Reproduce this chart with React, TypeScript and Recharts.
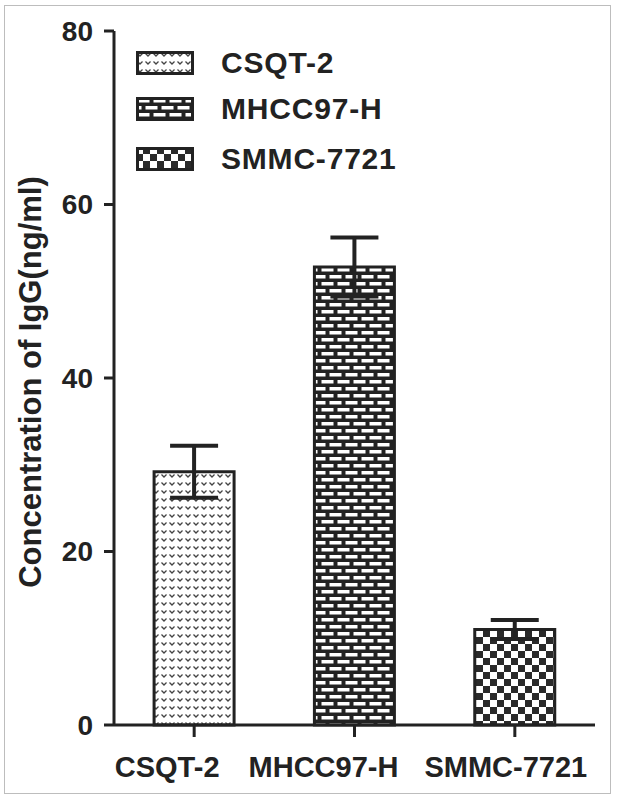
import React from 'react';
import { BarChart, Bar, XAxis, YAxis, ErrorBar, Cell, Legend } from 'recharts';

const categories = ['CSQT-2', 'MHCC97-H', 'SMMC-7721'];
const means = [29.2, 52.8, 11.0];
const errors = [3.0, 3.4, 1.1];
const yTicks = [0, 20, 40, 60, 80];
const yLabel = 'Concentration of IgG(ng/ml)';
const patternIds = ['patChevron', 'patBrick', 'patCheck'];

const data = categories.map((name, i) => ({ name, value: means[i], err: errors[i] }));

const INK = '#222';
const FONT = "'Liberation Sans', Arial, sans-serif";
// horizontal nudge of each category label relative to its tick (as in the original figure)
const LABEL_NUDGE = [-27, -31, -9];

const Patterns = () => (
  <svg width={0} height={0} style={{ position: 'absolute' }}>
    <defs>
      <pattern id="patChevron" width={8} height={8} patternUnits="userSpaceOnUse">
        <rect width={8} height={8} fill="#fff" />
        <path d="M1.5 2.5 L4 5 L6.5 2.5" stroke="#444" strokeWidth={1.3} fill="none" />
      </pattern>
      <pattern id="patBrick" width={16} height={14} patternUnits="userSpaceOnUse">
        <rect width={16} height={14} fill={INK} />
        <rect x={1.5} y={2} width={12} height={3.5} fill="#fff" />
        <rect x={-6.5} y={9} width={12} height={3.5} fill="#fff" />
        <rect x={9.5} y={9} width={12} height={3.5} fill="#fff" />
      </pattern>
      <pattern id="patCheck" width={14} height={14} patternUnits="userSpaceOnUse">
        <rect width={14} height={14} fill="#2a2a2a" />
        <rect x={0} y={0} width={7} height={7} fill="#fff" />
        <rect x={7} y={7} width={7} height={7} fill="#fff" />
      </pattern>
    </defs>
  </svg>
);

const renderLegend = () => (
  <div style={{ fontFamily: FONT, fontWeight: 'bold', color: INK }}>
    {categories.map((c, i) => (
      <div key={c} style={{ display: 'flex', alignItems: 'center', height: 22, marginBottom: 24 + i * 4 }}>
        <svg width={58} height={24} style={{ display: 'block' }}>
          <rect x={1.5} y={1.5} width={55} height={21} fill={`url(#${patternIds[i]})`} stroke={INK} strokeWidth={3} />
        </svg>
        <span style={{ marginLeft: 27, fontSize: 30, letterSpacing: 0.8, lineHeight: '24px' }}>{c}</span>
      </div>
    ))}
  </div>
);

const YLabel = (props: any) => {
  const vb = props.viewBox || {};
  const x = vb.x + 30;
  const y = vb.y + vb.height / 2 + 4;
  return (
    <text x={x} y={y} transform={`rotate(-90 ${x} ${y})`} textAnchor="middle" dominantBaseline="central"
      fontFamily={FONT} fontWeight="bold" fontSize={31} fill={INK}>
      {yLabel}
    </text>
  );
};

const XTick = (props: any) => {
  const { x, y, payload, index } = props;
  const nudge = LABEL_NUDGE[index] ?? 0;
  return (
    <text x={x + nudge} y={y} dy="0.71em" textAnchor="middle" fontFamily={FONT} fontWeight="bold"
      fontSize={29} fill={INK}>
      {payload.value}
    </text>
  );
};

export default function App() {
  return (
    <div style={{ position: 'absolute', left: 0, top: 0, width: 619, height: 800, background: '#fff' }}>
      <Patterns />
      <div style={{ position: 'absolute', left: 4, top: 5, width: 605, height: 787, border: '1.5px solid #bdbdbd' }} />
      <BarChart width={619} height={800} data={data} margin={{ top: 31, right: 24, bottom: 35, left: 0 }}
        barCategoryGap="25%">
        <XAxis dataKey="name" height={40} axisLine={{ stroke: INK, strokeWidth: 3 }}
          tickLine={{ stroke: INK, strokeWidth: 3 }} tickSize={12} tickMargin={19}
          tick={<XTick />} interval={0} />
        <XAxis xAxisId="top" dataKey="name" orientation="top" height={0} tick={false} tickLine={false}
          axisLine={{ stroke: INK, strokeWidth: 3 }} />
        <YAxis width={114} domain={[0, 80]} ticks={yTicks} axisLine={{ stroke: INK, strokeWidth: 3 }}
          tickLine={{ stroke: INK, strokeWidth: 3 }} tickSize={10} tickMargin={11}
          tick={{ fill: INK, fontFamily: FONT, fontWeight: 'bold', fontSize: 28 }}
          label={{ content: YLabel }} />
        <YAxis yAxisId="r" orientation="right" width={0} domain={[0, 80]} tick={false} tickLine={false}
          axisLine={{ stroke: INK, strokeWidth: 3 }} />
        <Legend layout="vertical" align="center" verticalAlign="middle" content={renderLegend}
          wrapperStyle={{ left: 136, top: 52, width: 320 }} />
        <Bar dataKey="value" stroke={INK} strokeWidth={3} isAnimationActive={false}>
          {data.map((d, i) => (
            <Cell key={d.name} fill={`url(#${patternIds[i]})`} />
          ))}
          <ErrorBar dataKey="err" width={24} stroke={INK} strokeWidth={4} />
        </Bar>
      </BarChart>
    </div>
  );
}
